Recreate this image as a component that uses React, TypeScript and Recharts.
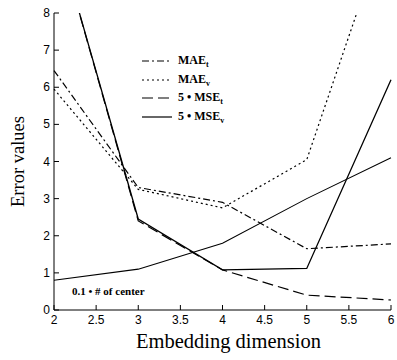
import React from 'react';
import { LineChart, Line, XAxis, YAxis, Legend, Label } from 'recharts';

// embedding dimension values
const dims = [2, 3, 4, 5, 6];

// series
const maeT = [6.45, 3.3, 2.9, 1.65, 1.78];
const maeV = [5.95, 3.25, 2.75, 4.05, 10.7];
const mseT = [10.4, 2.4, 1.08, 0.4, 0.27];
const mseV = [10.4, 2.45, 1.08, 1.12, 6.2];
const centers = [0.8, 1.1, 1.8, 3.0, 4.1];

const xTicks = [2, 2.5, 3, 3.5, 4, 4.5, 5, 5.5, 6];
const yTicks = [0, 1, 2, 3, 4, 5, 6, 7, 8];

const data = dims.map((d, i) => ({
  x: d,
  maeT: maeT[i],
  maeV: maeV[i],
  mseT: mseT[i],
  mseV: mseV[i],
  centers: centers[i],
}));

const series = [
  { key: 'maeT', pre: '', name: 'MAE', sub: 't', dash: '7 3 2 3' },
  { key: 'maeV', pre: '', name: 'MAE', sub: 'v', dash: '2 3' },
  { key: 'mseT', pre: '5 \u2022 ', name: 'MSE', sub: 't', dash: '11 5' },
  { key: 'mseV', pre: '5 \u2022 ', name: 'MSE', sub: 'v', dash: undefined },
];

const tickFont = { fontFamily: 'Liberation Sans, Arial, sans-serif', fontSize: 12 };

const BottomTick = (props: any) => {
  const { x, y, payload } = props;
  return (
    <g>
      <line x1={x} y1={y} x2={x} y2={y - 5} stroke="#000" />
      <text x={x} y={y + 14} textAnchor="middle" fill="#000" style={tickFont}>
        {payload.value}
      </text>
    </g>
  );
};

const TopTick = (props: any) => {
  const { x, y } = props;
  return <line x1={x} y1={y} x2={x} y2={y + 5} stroke="#000" />;
};

const LeftTick = (props: any) => {
  const { x, y, payload } = props;
  return (
    <g>
      <line x1={x} y1={y} x2={x + 5} y2={y} stroke="#000" />
      <text x={x - 4} y={y + 4} textAnchor="end" fill="#000" style={tickFont}>
        {payload.value}
      </text>
    </g>
  );
};

const RightTick = (props: any) => {
  const { x, y } = props;
  return <line x1={x} y1={y} x2={x - 5} y2={y} stroke="#000" />;
};

const LegendBox = () => (
  <div style={{ fontFamily: 'Liberation Serif, serif', fontSize: 12, fontWeight: 'bold' }}>
    {series.map((s) => (
      <div key={s.key} style={{ display: 'flex', alignItems: 'center', height: 18.5 }}>
        <svg width={32} height={10} style={{ marginRight: 5 }}>
          <line x1={1} y1={5} x2={31} y2={5} stroke="#000" strokeWidth={1.2} strokeDasharray={s.dash} />
        </svg>
        <span>
          {s.pre}
          {s.name}
          <sub style={{ fontSize: 8 }}>{s.sub}</sub>
        </span>
      </div>
    ))}
  </div>
);

export default function App() {
  return (
    <div style={{ position: 'absolute', left: 0, top: 0, width: 397, height: 360, background: '#fff' }}>
      <LineChart width={397} height={360} data={data} margin={{ top: 13, right: 6, bottom: 0, left: 0 }}>
        <XAxis
          dataKey="x"
          type="number"
          domain={[2, 6]}
          ticks={xTicks}
          tick={<BottomTick />}
          tickLine={false}
          tickSize={0}
          tickMargin={0}
          height={50}
          axisLine={{ stroke: '#000' }}
        >
          <Label
            value="Embedding dimension"
            position="center"
            dx={6}
            dy={6}
            style={{ fontFamily: 'Liberation Serif, serif', fontSize: 20.5, fill: '#000' }}
          />
        </XAxis>
        <XAxis
          xAxisId="top"
          dataKey="x"
          type="number"
          orientation="top"
          domain={[2, 6]}
          ticks={xTicks}
          tick={<TopTick />}
          tickLine={false}
          tickSize={0}
          tickMargin={0}
          height={0}
          axisLine={{ stroke: '#000' }}
        />
        <YAxis
          type="number"
          domain={[0, 8]}
          ticks={yTicks}
          allowDataOverflow
          tick={<LeftTick />}
          tickLine={false}
          tickSize={0}
          tickMargin={0}
          width={54}
          axisLine={{ stroke: '#000' }}
        >
          <Label
            value="Error values"
            angle={-90}
            position="center"
            dx={-10}
            style={{ fontFamily: 'Liberation Serif, serif', fontSize: 18.5, fill: '#000' }}
          />
        </YAxis>
        <YAxis
          yAxisId="right"
          orientation="right"
          type="number"
          domain={[0, 8]}
          ticks={yTicks}
          tick={<RightTick />}
          tickLine={false}
          tickSize={0}
          tickMargin={0}
          width={0}
          axisLine={{ stroke: '#000' }}
        />
        <Legend
          layout="vertical"
          align="center"
          verticalAlign="middle"
          content={() => <LegendBox />}
          wrapperStyle={{ left: 141, top: 52, width: 110 }}
        />
        {series.map((s) => (
          <Line
            key={s.key}
            dataKey={s.key}
            type="linear"
            stroke="#000"
            strokeWidth={s.dash ? 1.2 : 1.3}
            strokeDasharray={s.dash}
            dot={false}
            isAnimationActive={false}
          />
        ))}
        <Line
          dataKey="centers"
          type="linear"
          stroke="#000"
          strokeWidth={1.1}
          dot={false}
          legendType="none"
          isAnimationActive={false}
        />
      </LineChart>
      <div
        style={{
          position: 'absolute',
          left: 72,
          top: 285,
          fontFamily: 'Liberation Serif, serif',
          fontSize: 11,
          fontWeight: 'bold',
        }}
      >
        0.1 {'\u2022'} # of center
      </div>
    </div>
  );
}
